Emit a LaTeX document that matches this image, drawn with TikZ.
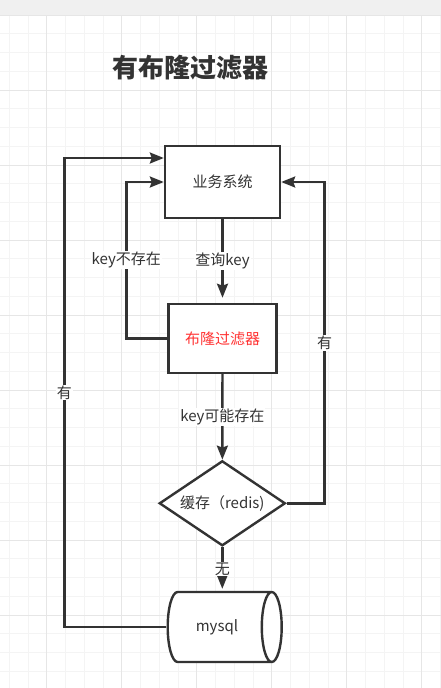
\documentclass[tikz,border=0pt]{standalone}
\usepackage{fontspec}
\setmainfont{Noto Sans CJK SC}
\usetikzlibrary{shapes.geometric,arrows.meta}

\definecolor{linegray}{HTML}{333333}
\definecolor{gridminor}{HTML}{F4F4F4}
\definecolor{gridmajor}{HTML}{E6E6E6}
\definecolor{bargray}{HTML}{F0F0F0}
\definecolor{bloomred}{HTML}{FF3333}

\tikzset{
    flowbox/.style={draw=linegray, line width=2.4pt, fill=white, text=linegray, font=\fontsize{15}{18}\selectfont},
    flowline/.style={draw=linegray, line width=2.4pt, -{Stealth[length=14pt,width=11pt,inset=2pt]}},
    flowlabel/.style={fill=white, text=linegray, inner sep=1pt, font=\fontsize{15}{18}\selectfont},
}

\begin{document}
\begin{tikzpicture}[x=1pt, y=-1pt]

    \useasboundingbox (0,0) rectangle (441,688);

    \begin{scope}[]
    
    \fill[white] (0,0) rectangle (441,688);
    \foreach \gx in {9.2,27.95,...,441} \draw[gridminor, line width=0.8pt] (\gx,15.5) -- (\gx,688);
    \foreach \gy in {33.75,52.5,...,688} \draw[gridminor, line width=0.8pt] (0,\gy) -- (441,\gy);
    \foreach \gx in {46.7,121.7,...,441} \draw[gridmajor, line width=1pt] (\gx,15.5) -- (\gx,688);
    \foreach \gy in {90,165,...,688} \draw[gridmajor, line width=1pt] (0,\gy) -- (441,\gy);
    \fill[bargray] (0,0) rectangle (441,15.5);
    \draw[gridmajor, line width=1pt] (0,15.5) -- (441,15.5);
    
    \end{scope}

    \node[text=linegray, font=\fontsize{26}{30}\selectfont\bfseries] (title) at (190,68) {有布隆过滤器};

    \node[flowbox, minimum width=115pt, minimum height=72pt] (sys) at (222.5,182) {业务系统};
    \node[flowbox, text=bloomred, minimum width=108pt, minimum height=69pt] (bloom) at (222.5,338.4) {布隆过滤器};
    \node[flowbox, diamond, shape aspect=1.47, inner sep=0pt, minimum width=126pt, minimum height=85pt] (cache) at (222.3,503.3) {缓存（redis)};
    \node[flowbox, cylinder, shape aspect=0.9, minimum width=70pt, minimum height=114pt] (mysql) at (217,627) {mysql};

    \draw[flowline, shorten >=5pt] (sys) -- node[flowlabel] {查询key} (bloom);
    \draw[flowline] (bloom.west) -- ++(-41,0) |- node[flowlabel, pos=0.25] {key不存在} (sys.west);
    \draw[flowline] (bloom) -- node[flowlabel] {key可能存在} (cache);
    \draw[flowline] (cache.east) -- ++(38,0) |- node[flowlabel, pos=0.25] {有} (sys.east);
    \draw[flowline, shorten >=2pt] (cache) -- node[flowlabel] {无} (mysql.north -| cache.south);
    \draw[flowline] (mysql.west) -- ++(-102,0) |- node[flowlabel, pos=0.25] {有} ([yshift=24pt]sys.west);

\end{tikzpicture}
\end{document}
